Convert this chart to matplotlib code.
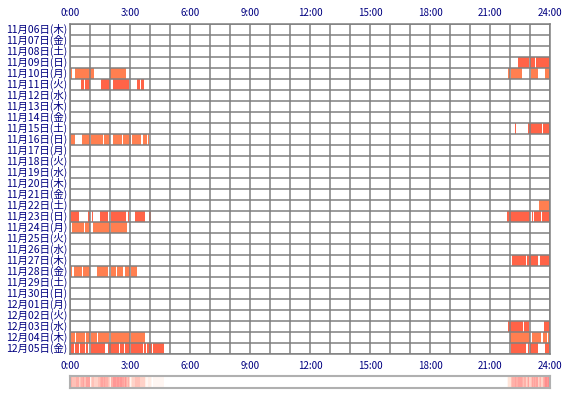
import numpy as np
import matplotlib.pyplot as plt
from matplotlib.colors import LinearSegmentedColormap

plt.rcParams['font.family'] = ['Noto Sans CJK JP', 'DejaVu Sans']

dates = ["11月06日(木)", "11月07日(金)", "11月08日(土)", "11月09日(日)", "11月10日(月)",
         "11月11日(火)", "11月12日(水)", "11月13日(木)", "11月14日(金)", "11月15日(土)",
         "11月16日(日)", "11月17日(月)", "11月18日(火)", "11月19日(水)", "11月20日(木)",
         "11月21日(金)", "11月22日(土)", "11月23日(日)", "11月24日(月)", "11月25日(火)",
         "11月26日(水)", "11月27日(木)", "11月28日(金)", "11月29日(土)", "11月30日(日)",
         "12月01日(月)", "12月02日(火)", "12月03日(水)", "12月04日(木)", "12月05日(金)"]

TOMATO = "#ff6347"
CORAL = "#ff7f50"

# activity segments (start hour, end hour) per row index
segments = {
    3: [(22.42, 22.97), (23.02, 23.27), (23.32, 24.0)],
    4: [(0.05, 0.1), (0.25, 1.2), (2.0, 2.8), (21.92, 22.02), (22.07, 22.62),
        (23.07, 23.42), (23.77, 24.0)],
    5: [(0.55, 0.7), (0.75, 1.0), (1.55, 2.0), (2.15, 2.75), (2.75, 2.95),
        (3.35, 3.5), (3.55, 3.7)],
    9: [(22.27, 22.3), (22.92, 23.62), (23.67, 24.0)],
    10: [(0.05, 0.25), (0.6, 1.0), (1.05, 1.65), (1.7, 2.0), (2.15, 2.6),
         (2.65, 3.05), (3.1, 3.55), (3.65, 3.85), (3.9, 3.95)],
    16: [(23.47, 24.0)],
    17: [(0.05, 0.45), (0.9, 1.0), (1.1, 1.15), (1.5, 1.9), (2.05, 2.8), (2.9, 2.95),
         (3.25, 3.75), (3.95, 4.05), (21.87, 23.02), (23.12, 23.17), (23.22, 23.57),
         (23.62, 24.0)],
    18: [(0.1, 0.7), (0.75, 1.0), (1.15, 2.0), (2.05, 2.85)],
    21: [(22.12, 22.82), (22.87, 23.42), (23.52, 24.0)],
    22: [(0.05, 0.1), (0.2, 0.6), (0.65, 1.0), (1.35, 1.9), (2.05, 2.3), (2.35, 2.65),
         (2.75, 3.0), (3.05, 3.35)],
    27: [(21.92, 22.67), (22.72, 22.97), (23.72, 24.0)],
    28: [(0.05, 0.25), (0.3, 0.75), (0.8, 1.0), (1.05, 1.35), (1.4, 1.95), (2.05, 3.0),
         (3.05, 3.75), (22.02, 23.02), (23.12, 23.57), (23.67, 23.87), (23.92, 23.97)],
    29: [(0.05, 0.2), (0.25, 0.45), (0.5, 0.75), (0.8, 0.9), (1.05, 1.75), (1.9, 2.45),
         (2.5, 2.7), (2.75, 3.0), (3.05, 3.65), (3.7, 3.8), (3.85, 4.1), (4.15, 4.7),
         (22.07, 22.82), (22.92, 22.97), (23.02, 23.42), (23.77, 23.97)],
}
row_colors = {3: TOMATO, 4: CORAL, 5: TOMATO, 9: TOMATO, 10: CORAL, 16: CORAL,
              17: TOMATO, 18: CORAL, 21: TOMATO, 22: CORAL, 27: TOMATO, 28: CORAL, 29: TOMATO}

tick_hours = [0, 3, 6, 9, 12, 15, 18, 21, 24]
tick_labels = ["0:00", "3:00", "6:00", "9:00", "12:00", "15:00", "18:00", "21:00", "24:00"]

fig = plt.figure(figsize=(5.7, 4.0), dpi=100)
ax = fig.add_axes([70 / 570, 1 - 354 / 400, 480 / 570, 330 / 400])
n = len(dates)
for r, segs in segments.items():
    ax.broken_barh([(s, e - s) for s, e in segs], (r, 1), color=row_colors[r], lw=0)
ax.set_xlim(0, 24)
ax.set_ylim(n, 0)
ax.set_xticks(range(25))
ax.set_yticks(range(n + 1))
ax.grid(True, color="#808080", lw=1.1)
ax.set_axisbelow(False)
ax.tick_params(length=0, labelbottom=False, labelleft=False)
for s in ax.spines.values():
    s.set_color("#808080")
    s.set_linewidth(1.1)
for h, lab in zip(tick_hours, tick_labels):
    ax.text(h, -0.5, lab, ha="center", va="bottom", fontsize=7, color="#000080")
    ax.text(h, n + 0.6, lab, ha="center", va="top", fontsize=7, color="#000080")
for i, d in enumerate(dates):
    ax.text(-0.15, i + 0.5, d, ha="right", va="center", fontsize=7.5, color="#000080")

# summary strip: how often each minute was active
minutes = np.zeros(24 * 60)
for segs in segments.values():
    for s, e in segs:
        minutes[int(s * 60):int(e * 60)] += 1
cmap = LinearSegmentedColormap.from_list("act", ["#ffffff", "#ffe4d8", "#ffb0a8", "#ff8c8c"])
ax2 = fig.add_axes([70 / 570, 1 - 388 / 400, 480 / 570, 12 / 400])
ax2.imshow(minutes[None, :], aspect="auto", cmap=cmap, vmin=0, vmax=minutes.max(),
           extent=(0, 24, 0, 1), interpolation="nearest")
ax2.set_xticks([])
ax2.set_yticks([])
for s in ax2.spines.values():
    s.set_color("#b0b0b0")
    s.set_linewidth(1.5)

fig.savefig("out.png", dpi=100)
